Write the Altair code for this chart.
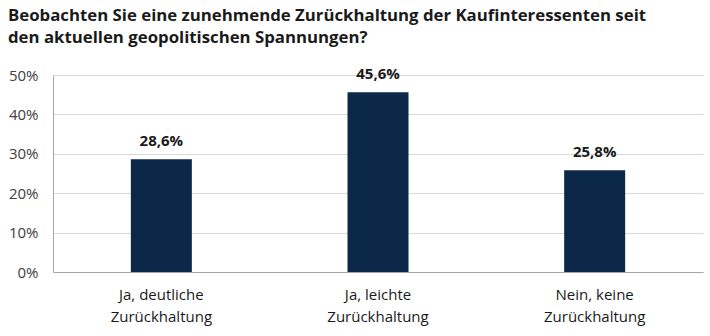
import altair as alt
import pandas as pd

categories = ["Ja, deutliche|Zurückhaltung", "Ja, leichte|Zurückhaltung", "Nein, keine|Zurückhaltung"]
values = [28.6, 45.6, 25.8]
labels = [f"{v:.1f}".replace(".", ",") + "%" for v in values]

df = pd.DataFrame({"cat": categories, "val": [v / 100 for v in values], "lab": labels})

font = "Open Sans"

base = alt.Chart(df).encode(
    x=alt.X("cat:N", sort=categories, title=None,
            scale=alt.Scale(paddingInner=0, paddingOuter=0),
            axis=alt.Axis(labelExpr="split(datum.label, '|')", labelAngle=0,
                          domainColor="#a6a6a6", ticks=False, labelFontSize=15,
                          labelColor="#1a1a1a", labelPadding=15, labelLineHeight=22,
                          labelFont=font)),
    y=alt.Y("val:Q", title=None,
            scale=alt.Scale(domain=[0, 0.5]),
            axis=alt.Axis(format=".0%", values=[0, 0.1, 0.2, 0.3, 0.4, 0.5],
                          domainColor="#a6a6a6", ticks=False, gridColor="#d9d9d9",
                          labelFontSize=15, labelColor="#404040", labelPadding=15,
                          labelFont=font)),
)

bars = base.mark_bar(size=61, color="#0b2848")
text = base.mark_text(dy=-10, baseline="bottom", fontSize=15, fontWeight="bold",
                      font=font, color="#1a1a1a").encode(text="lab:N")

chart = (bars + text).properties(
    width=650, height=197,
    autosize=alt.AutoSizeParams(type="none"),
    padding={"left": 53, "top": 75, "right": 7, "bottom": 64},
    title=alt.TitleParams(
        ["Beobachten Sie eine zunehmende Zurückhaltung der Kaufinteressenten seit",
         "den aktuellen geopolitischen Spannungen?"],
        anchor="start", frame="group", dx=-45, offset=21, fontSize=16.8,
        fontWeight="bold", font=font, color="#1a1a1a", lineHeight=22),
).configure_view(stroke=None).configure_axisX(grid=False)

chart.save("out.html", embed_options={"renderer": "svg", "actions": False})
